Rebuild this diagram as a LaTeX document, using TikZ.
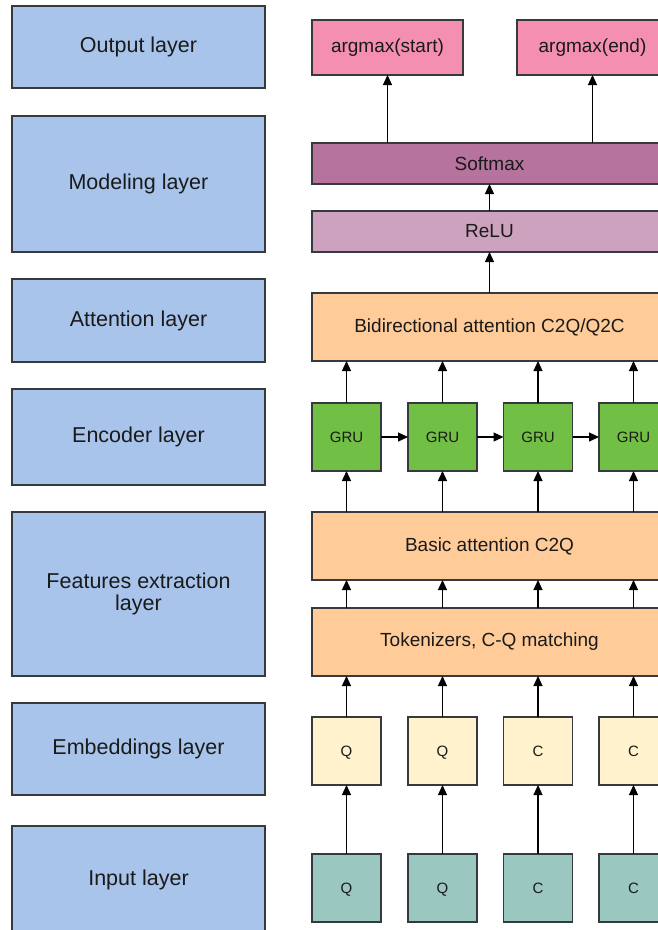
\documentclass[tikz,border=0pt]{standalone}
\usepackage{fontspec}
\setmainfont{Liberation Sans}
\usetikzlibrary{arrows.meta}
\definecolor{layerblue}{HTML}{A9C4EB}
\definecolor{argpink}{HTML}{F58FB2}
\definecolor{softcol}{HTML}{B5739D}
\definecolor{relucol}{HTML}{CDA2BE}
\definecolor{orangecol}{HTML}{FFCC99}
\definecolor{grucol}{HTML}{72BF45}
\definecolor{embcol}{HTML}{FFF2CC}
\definecolor{inpcol}{HTML}{9AC7BF}
\definecolor{boxline}{HTML}{36393D}
\definecolor{textcol}{HTML}{1A1A1A}
\begin{document}
\begin{tikzpicture}[x=1pt,y=-1pt,
  box/.style={draw=boxline, line width=1.2pt, inner sep=0pt, outer sep=0pt, align=center, text=textcol},
  lay/.style={box, fill=layerblue, minimum width=253pt, font=\fontsize{21.5}{22}\selectfont},
  wide/.style={box, minimum width=355pt, font=\fontsize{19}{21}\selectfont},
  argbox/.style={box, fill=argpink, minimum width=151pt, minimum height=55pt, font=\fontsize{19}{21}\selectfont},
  sq/.style={box, minimum width=69pt, minimum height=68pt, text height=11pt, text depth=0pt, font=\fontsize{15}{17}\selectfont},
  arr/.style={-{Triangle[length=10pt,width=9pt]}, line width=1.2pt, draw=black}]
\clip (0,0) rectangle (658,930);
\fill[white] (0,0) rectangle (658,930);
% left layer labels
\node[lay, minimum height=82pt]  (Lout)  at (138.5,47)  {Output layer};
\node[lay, minimum height=136pt] (Lmod)  at (138.5,184) {Modeling layer};
\node[lay, minimum height=83pt]  (Latt)  at (138.5,320.5) {Attention layer};
\node[lay, minimum height=96pt]  (Lenc)  at (138.5,437) {Encoder layer};
\node[lay, minimum height=164pt] (Lfeat) at (138.5,594) {Features extraction\\layer};
\node[lay, minimum height=92pt]  (Lemb)  at (138.5,749) {Embeddings layer};
\node[lay, minimum height=108pt] (Linp)  at (138.5,880) {Input layer};
% right side
\node[argbox] (as) at (387.5,47.5) {argmax(start)};
\node[argbox] (ae) at (592.5,47.5) {argmax(end)};
\node[wide, fill=softcol, minimum height=41pt] (soft) at (489.5,163.5) {Softmax};
\node[wide, fill=relucol, minimum height=41pt] (relu) at (489.5,231.5) {ReLU};
\node[wide, fill=orangecol, minimum height=68pt] (bi) at (489.5,327) {Bidirectional attention C2Q/Q2C};
\node[sq, fill=grucol] (g1) at (346.5,437) {GRU};
\node[sq, fill=grucol] (g2) at (442.5,437) {GRU};
\node[sq, fill=grucol] (g3) at (538,437) {GRU};
\node[sq, fill=grucol] (g4) at (633.5,437) {GRU};
\node[wide, fill=orangecol, minimum height=68pt] (basic) at (489.5,546) {Basic attention C2Q};
\node[wide, fill=orangecol, minimum height=68pt] (tok) at (489.5,642) {Tokenizers, C-Q matching};
\node[sq, fill=embcol] (e1) at (346.5,751) {Q};
\node[sq, fill=embcol] (e2) at (442.5,751) {Q};
\node[sq, fill=embcol] (e3) at (538,751) {C};
\node[sq, fill=embcol] (e4) at (633.5,751) {C};
\node[sq, fill=inpcol] (i1) at (346.5,888) {Q};
\node[sq, fill=inpcol] (i2) at (442.5,888) {Q};
\node[sq, fill=inpcol] (i3) at (538,888) {C};
\node[sq, fill=inpcol] (i4) at (633.5,888) {C};
% connectors
\foreach \k in {1,2,3,4}{
  \draw[arr] (i\k.north) -- (e\k.south);
  \draw[arr] (e\k.north) -- (e\k.north |- tok.south);
  \draw[arr] (e\k.north |- tok.north) -- (e\k.north |- basic.south);
  \draw[arr] (g\k.south |- basic.north) -- (g\k.south);
  \draw[arr] (g\k.north) -- (g\k.north |- bi.south);
}
\draw[arr] (g1.east) -- (g2.west);
\draw[arr] (g2.east) -- (g3.west);
\draw[arr] (g3.east) -- (g4.west);
\draw[arr] (bi.north) -- (relu.south);
\draw[arr] (relu.north) -- (soft.south);
\draw[arr] (as.south |- soft.north) -- (as.south);
\draw[arr] (ae.south |- soft.north) -- (ae.south);
\end{tikzpicture}
\end{document}
